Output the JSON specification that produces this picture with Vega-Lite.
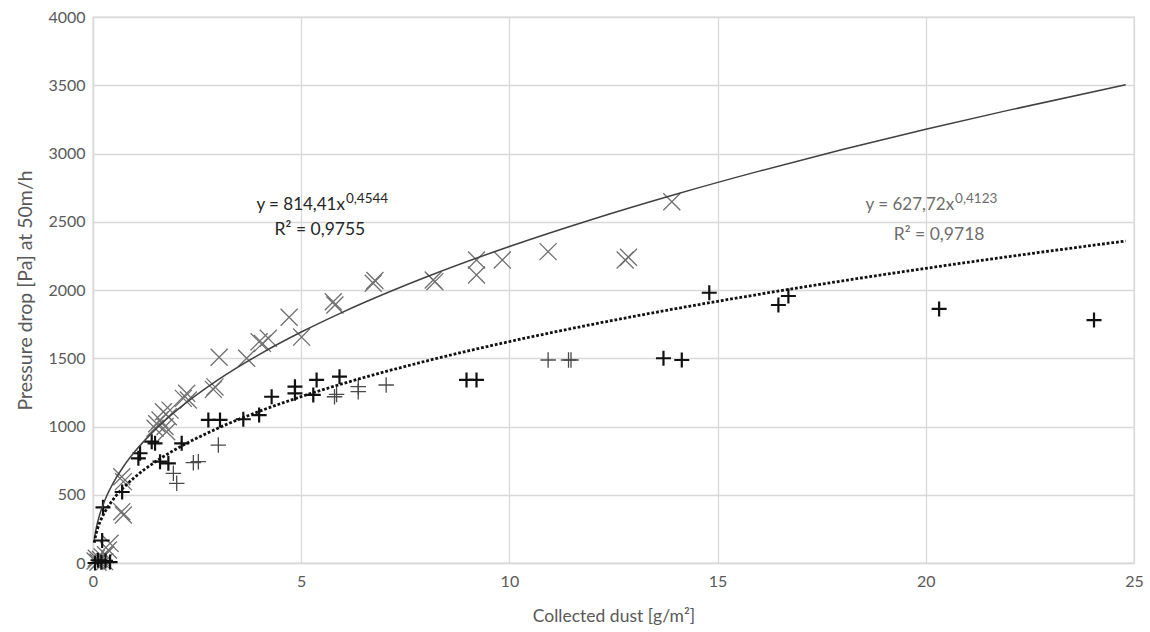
{
  "$schema": "https://vega.github.io/schema/vega-lite/v6.json",
  "width": 1041,
  "height": 546,
  "autosize": {"type": "none"},
  "padding": {"left": 93, "top": 17, "right": 16, "bottom": 69},
  "background": "white",
  "config": {
    "font": "Lato",
    "view": {"stroke": "#d9d9d9", "strokeWidth": 1.3},
    "axis": {
      "grid": true, "gridColor": "#d9d9d9", "gridWidth": 1.3,
      "domainColor": "#d9d9d9", "domainWidth": 1.3, "ticks": false,
      "labelColor": "#595959", "labelFontSize": 16, "labelFont": "Lato",
      "titleColor": "#595959", "titleFontSize": 17.5, "titleFont": "Lato", "titleFontWeight": "normal"
    }
  },
  "datasets": {
    "points": [
      {"series": "x", "dust": 0.05, "dp": 15}, {"series": "x", "dust": 0.08, "dp": 35}, {"series": "x", "dust": 0.12, "dp": 5},
      {"series": "x", "dust": 0.18, "dp": 25}, {"series": "x", "dust": 0.22, "dp": 45}, {"series": "x", "dust": 0.28, "dp": 10},
      {"series": "x", "dust": 0.3, "dp": 60}, {"series": "x", "dust": 0.37, "dp": 95}, {"series": "x", "dust": 0.41, "dp": 144},
      {"series": "x", "dust": 0.69, "dp": 376}, {"series": "x", "dust": 0.73, "dp": 352}, {"series": "x", "dust": 0.69, "dp": 632},
      {"series": "x", "dust": 0.73, "dp": 596}, {"series": "x", "dust": 1.49, "dp": 987}, {"series": "x", "dust": 1.53, "dp": 1020},
      {"series": "x", "dust": 1.61, "dp": 1048}, {"series": "x", "dust": 1.69, "dp": 1108}, {"series": "x", "dust": 1.73, "dp": 1000},
      {"series": "x", "dust": 1.77, "dp": 962}, {"series": "x", "dust": 1.81, "dp": 1072}, {"series": "x", "dust": 1.85, "dp": 1120},
      {"series": "x", "dust": 2.17, "dp": 1206}, {"series": "x", "dust": 2.25, "dp": 1243}, {"series": "x", "dust": 2.29, "dp": 1194},
      {"series": "x", "dust": 2.89, "dp": 1272}, {"series": "x", "dust": 2.93, "dp": 1290}, {"series": "x", "dust": 3.03, "dp": 1507},
      {"series": "x", "dust": 3.69, "dp": 1500}, {"series": "x", "dust": 3.99, "dp": 1621}, {"series": "x", "dust": 4.07, "dp": 1609},
      {"series": "x", "dust": 4.21, "dp": 1646}, {"series": "x", "dust": 4.71, "dp": 1800}, {"series": "x", "dust": 5.01, "dp": 1655},
      {"series": "x", "dust": 5.77, "dp": 1914}, {"series": "x", "dust": 5.81, "dp": 1890}, {"series": "x", "dust": 6.73, "dp": 2049},
      {"series": "x", "dust": 6.77, "dp": 2070}, {"series": "x", "dust": 8.17, "dp": 2073}, {"series": "x", "dust": 8.21, "dp": 2061},
      {"series": "x", "dust": 9.21, "dp": 2220}, {"series": "x", "dust": 9.21, "dp": 2110}, {"series": "x", "dust": 9.83, "dp": 2220},
      {"series": "x", "dust": 10.93, "dp": 2281}, {"series": "x", "dust": 12.78, "dp": 2220}, {"series": "x", "dust": 12.86, "dp": 2240},
      {"series": "x", "dust": 13.9, "dp": 2647},
      {"series": "plus", "dust": 0.05, "dp": 0}, {"series": "plus", "dust": 0.12, "dp": 20}, {"series": "plus", "dust": 0.2, "dp": 5},
      {"series": "plus", "dust": 0.3, "dp": 15}, {"series": "plus", "dust": 0.41, "dp": 7}, {"series": "plus", "dust": 0.22, "dp": 165},
      {"series": "plus", "dust": 0.24, "dp": 408}, {"series": "plus", "dust": 0.7, "dp": 520}, {"series": "plus", "dust": 1.09, "dp": 767},
      {"series": "plus", "dust": 1.13, "dp": 804}, {"series": "plus", "dust": 1.41, "dp": 889}, {"series": "plus", "dust": 1.49, "dp": 877},
      {"series": "plus", "dust": 1.61, "dp": 742}, {"series": "plus", "dust": 1.81, "dp": 730}, {"series": "plus", "dust": 2.13, "dp": 877},
      {"series": "plus", "dust": 2.77, "dp": 1048}, {"series": "plus", "dust": 3.05, "dp": 1048}, {"series": "plus", "dust": 3.61, "dp": 1053},
      {"series": "plus", "dust": 3.99, "dp": 1084}, {"series": "plus", "dust": 4.29, "dp": 1218}, {"series": "plus", "dust": 4.85, "dp": 1292},
      {"series": "plus", "dust": 4.85, "dp": 1243}, {"series": "plus", "dust": 5.29, "dp": 1231}, {"series": "plus", "dust": 5.37, "dp": 1341},
      {"series": "plus", "dust": 5.92, "dp": 1365}, {"series": "plus", "dust": 8.97, "dp": 1341}, {"series": "plus", "dust": 9.21, "dp": 1341},
      {"series": "plus", "dust": 13.7, "dp": 1500}, {"series": "plus", "dust": 14.14, "dp": 1487}, {"series": "plus", "dust": 14.8, "dp": 1980},
      {"series": "plus", "dust": 16.46, "dp": 1890}, {"series": "plus", "dust": 16.7, "dp": 1956}, {"series": "plus", "dust": 20.32, "dp": 1861},
      {"series": "plus", "dust": 24.04, "dp": 1780},
      {"series": "plus2", "dust": 1.93, "dp": 657}, {"series": "plus2", "dust": 2.01, "dp": 584}, {"series": "plus2", "dust": 2.41, "dp": 735},
      {"series": "plus2", "dust": 2.53, "dp": 742}, {"series": "plus2", "dust": 3.01, "dp": 864}, {"series": "plus2", "dust": 5.8, "dp": 1218},
      {"series": "plus2", "dust": 5.85, "dp": 1235}, {"series": "plus2", "dust": 6.37, "dp": 1292}, {"series": "plus2", "dust": 6.37, "dp": 1255},
      {"series": "plus2", "dust": 7.04, "dp": 1304}, {"series": "plus2", "dust": 10.93, "dp": 1487}, {"series": "plus2", "dust": 11.42, "dp": 1487},
      {"series": "plus2", "dust": 11.48, "dp": 1487}
    ],
    "fits": [
      {"fit": "a", "dust": 0.03, "dp": 165.5}, {"fit": "a", "dust": 0.06, "dp": 226.8}, {"fit": "a", "dust": 0.1, "dp": 286.0},
      {"fit": "a", "dust": 0.2, "dp": 392.0}, {"fit": "a", "dust": 0.3, "dp": 471.2}, {"fit": "a", "dust": 0.5, "dp": 594.4},
      {"fit": "a", "dust": 0.75, "dp": 714.6}, {"fit": "a", "dust": 1, "dp": 814.4}, {"fit": "a", "dust": 1.5, "dp": 979.1},
      {"fit": "a", "dust": 2, "dp": 1115.9}, {"fit": "a", "dust": 3, "dp": 1341.7}, {"fit": "a", "dust": 4, "dp": 1529.1},
      {"fit": "a", "dust": 5, "dp": 1692.2}, {"fit": "a", "dust": 6, "dp": 1838.4}, {"fit": "a", "dust": 8, "dp": 2095.1},
      {"fit": "a", "dust": 10, "dp": 2318.8}, {"fit": "a", "dust": 12, "dp": 2518.9}, {"fit": "a", "dust": 14, "dp": 2701.8},
      {"fit": "a", "dust": 16, "dp": 2870.9}, {"fit": "a", "dust": 18, "dp": 3028.7}, {"fit": "a", "dust": 20, "dp": 3177.2},
      {"fit": "a", "dust": 22, "dp": 3317.8}, {"fit": "a", "dust": 24.8, "dp": 3503.3},
      {"fit": "b", "dust": 0.03, "dp": 147.8}, {"fit": "b", "dust": 0.06, "dp": 196.8}, {"fit": "b", "dust": 0.1, "dp": 242.9},
      {"fit": "b", "dust": 0.2, "dp": 323.3}, {"fit": "b", "dust": 0.3, "dp": 382.1}, {"fit": "b", "dust": 0.5, "dp": 471.7},
      {"fit": "b", "dust": 0.75, "dp": 557.5}, {"fit": "b", "dust": 1, "dp": 627.7}, {"fit": "b", "dust": 1.5, "dp": 742.0},
      {"fit": "b", "dust": 2, "dp": 835.4}, {"fit": "b", "dust": 3, "dp": 987.4}, {"fit": "b", "dust": 4, "dp": 1111.7},
      {"fit": "b", "dust": 5, "dp": 1218.8}, {"fit": "b", "dust": 6, "dp": 1314.1}, {"fit": "b", "dust": 8, "dp": 1479.4},
      {"fit": "b", "dust": 10, "dp": 1622.2}, {"fit": "b", "dust": 12, "dp": 1748.7}, {"fit": "b", "dust": 14, "dp": 1863.5},
      {"fit": "b", "dust": 16, "dp": 1968.8}, {"fit": "b", "dust": 18, "dp": 2066.9}, {"fit": "b", "dust": 20, "dp": 2158.6},
      {"fit": "b", "dust": 22, "dp": 2245.1}, {"fit": "b", "dust": 24.8, "dp": 2358.8}
    ],
    "labels": [
      {"grp": "a", "kind": "eq", "dust": 6.05, "dp": 2623, "text": "y = 814,41x"},
      {"grp": "a", "kind": "sup", "dust": 6.05, "dp": 2623, "text": "0,4544"},
      {"grp": "a", "kind": "r2", "dust": 5.45, "dp": 2440, "text": "R² = 0,9755"},
      {"grp": "b", "kind": "eq", "dust": 20.68, "dp": 2623, "text": "y = 627,72x"},
      {"grp": "b", "kind": "sup", "dust": 20.68, "dp": 2623, "text": "0,4123"},
      {"grp": "b", "kind": "r2", "dust": 20.32, "dp": 2403, "text": "R² = 0,9718"}
    ]
  },
  "encoding": {
    "x": {"field": "dust", "type": "quantitative",
      "scale": {"domain": [0, 25], "nice": false},
      "axis": {"values": [0, 5, 10, 15, 20, 25], "format": "d", "labelFlush": false, "labelPadding": 10, "title": "Collected dust [g/m²]", "titlePadding": 18}},
    "y": {"field": "dp", "type": "quantitative",
      "scale": {"domain": [0, 4000], "nice": false},
      "axis": {"values": [0, 500, 1000, 1500, 2000, 2500, 3000, 3500, 4000], "format": "d", "labelPadding": 8, "title": "Pressure drop [Pa] at 50m/h", "titleFontSize": 19.5, "titlePadding": 12}}
  },
  "layer": [
    {
      "data": {"name": "points"},
      "transform": [{"filter": "datum.series === 'x'"}],
      "mark": {"type": "point", "shape": "M-1,-1L1,1M-1,1L1,-1", "filled": false, "size": 290, "stroke": "#707070", "strokeWidth": 1.3, "opacity": 1}
    },
    {
      "data": {"name": "points"},
      "transform": [{"filter": "datum.series === 'plus2'"}],
      "mark": {"type": "point", "shape": "M-1,0L1,0M0,-1L0,1", "filled": false, "size": 240, "stroke": "#4a4a4a", "strokeWidth": 1.3, "opacity": 1}
    },
    {
      "data": {"name": "points"},
      "transform": [{"filter": "datum.series === 'plus'"}],
      "mark": {"type": "point", "shape": "M-1,0L1,0M0,-1L0,1", "filled": false, "size": 225, "stroke": "#111111", "strokeWidth": 2.2, "opacity": 1}
    },
    {
      "data": {"name": "fits"},
      "transform": [{"filter": "datum.fit === 'a'"}],
      "mark": {"type": "line", "interpolate": "monotone", "stroke": "#404040", "strokeWidth": 1.5}
    },
    {
      "data": {"name": "fits"},
      "transform": [{"filter": "datum.fit === 'b'"}],
      "mark": {"type": "line", "interpolate": "monotone", "stroke": "#111111", "strokeWidth": 2.8, "strokeDash": [2.8, 1.9], "strokeCap": "butt"}
    },
    {
      "data": {"name": "labels"},
      "transform": [{"filter": "datum.kind === 'eq'"}],
      "mark": {"type": "text", "align": "right", "baseline": "middle", "font": "Lato", "fontSize": 17},
      "encoding": {
        "text": {"field": "text"},
        "color": {"field": "grp", "type": "nominal", "scale": {"domain": ["a", "b"], "range": ["#262626", "#6e6e6e"]}, "legend": null}
      }
    },
    {
      "data": {"name": "labels"},
      "transform": [{"filter": "datum.kind === 'sup'"}],
      "mark": {"type": "text", "align": "left", "baseline": "middle", "font": "Lato", "fontSize": 13.5, "dx": 1, "dy": -6},
      "encoding": {
        "text": {"field": "text"},
        "color": {"field": "grp", "type": "nominal", "scale": {"domain": ["a", "b"], "range": ["#262626", "#6e6e6e"]}, "legend": null}
      }
    },
    {
      "data": {"name": "labels"},
      "transform": [{"filter": "datum.kind === 'r2'"}],
      "mark": {"type": "text", "align": "center", "baseline": "middle", "font": "Lato", "fontSize": 17.5},
      "encoding": {
        "text": {"field": "text"},
        "color": {"field": "grp", "type": "nominal", "scale": {"domain": ["a", "b"], "range": ["#262626", "#6e6e6e"]}, "legend": null}
      }
    }
  ]
}
